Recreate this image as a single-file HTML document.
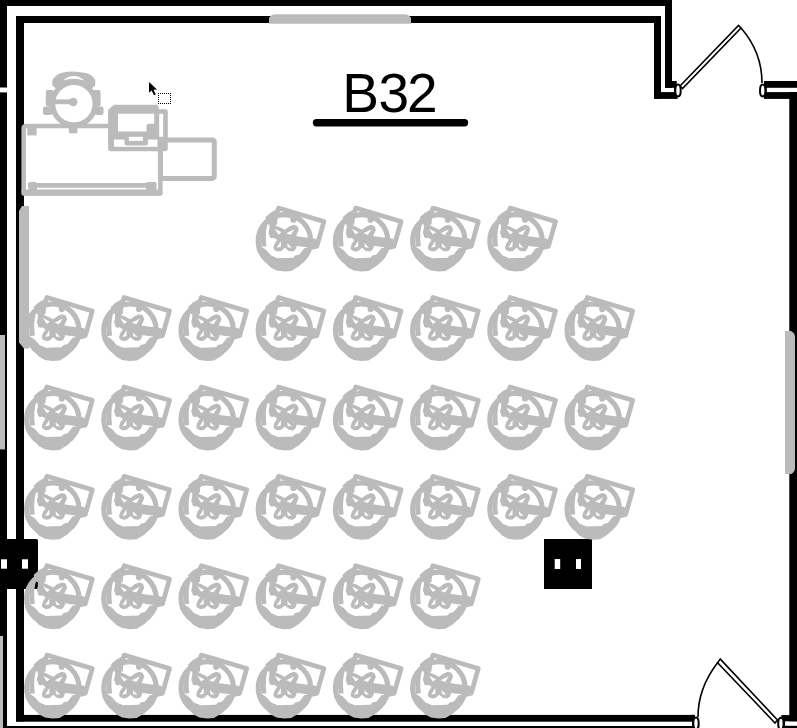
<!DOCTYPE html>
<html><head><meta charset="utf-8">
<style>
html,body{margin:0;padding:0;background:#fff;width:797px;height:728px;overflow:hidden}
svg{display:block}
</style></head>
<body>
<svg width="797" height="728" viewBox="0 0 797 728">
<defs>
<symbol id="chair" overflow="visible">
<g fill="none" stroke="#bbbbbb" stroke-linejoin="round">
<circle cx="33.2" cy="38.3" r="26.2" stroke-width="5.2"/>
<path d="M27.3,5.6 L72.7,19 L65.7,43.7 L19.7,30.2 Z" stroke-width="4.7"/>
<path d="M14,20.5 Q10.9,31 12.8,44" stroke-width="5"/>
<path d="M21,17.5 L21,33" stroke-width="5.5" stroke-linecap="round"/>
</g>
<path d="M5.5,47 L9.9,53.7 L14.3,58.7 L19.2,64.7 L25.3,68 L33,69.1 L40,68.6 L48.2,63.6 L52,58 L59.2,49.3 L61,46 L53.2,45.5 L48.2,52 L44,53 L41.9,55.3 L26.5,55.8 L19.9,53 L15.5,48 L13.7,46.6 L10.2,44.5 Z" fill="#bbbbbb"/>
<path d="M61,36 L68,38 L66,46 L58,48 Z" fill="#bbbbbb"/>
<circle cx="42.2" cy="17.2" r="3.1" fill="#bbbbbb"/>
<path d="M14,15 L19,10.5 L26,6.5 L26,22 L17,22 Z" fill="#bbbbbb"/>
<g fill="#fff" stroke="#bbbbbb">
<path d="M30,36.5 L64,41" stroke-width="9.5" fill="none"/>
</g>
<path d="M17.8,28.3 L19.5,24.5 L23.7,22.8 L28,24.5 L33.6,27.3 L38,24 L42.5,22.3 L46,23.5 L47.5,27.3 L45,33 L44.5,42 L45.5,44.1 L44,47.5 L41.5,49.1 L37.5,48.5 L33.6,45.3 L30,48.5 L26.7,49.1 L23,47.5 L22.2,45.1 L23.5,41 L26,37.5 L20.5,33.5 L17.8,31.5 Z" fill="#bbbbbb"/>
<g fill="#fff">
<path d="M23.5,26.2 L30.3,29.8 L27.2,32 Z"/><path d="M43.2,26.7 L35,30.8 L39.5,32.4 Z"/><path d="M25.5,45.2 L29.7,38.6 L29.7,44.2 Z"/><path d="M40.7,45.2 L36,40.6 L36.5,44.7 Z"/>
</g>
</symbol>
</defs>
<rect width="797" height="728" fill="#fff"/>

<!-- walls -->
<g fill="#000">
  <rect x="0" y="0" width="672" height="6"/>
  <rect x="0" y="0" width="7" height="87.5"/>
  <rect x="0" y="92.4" width="7" height="635.6"/>
  <rect x="665" y="0" width="7" height="87.8"/>
  <rect x="665" y="81" width="11.6" height="6.8"/>
  <rect x="16" y="16" width="645" height="7"/>
  <rect x="16" y="16" width="8" height="705.5"/>
  <rect x="654" y="16" width="7" height="82.9"/>
  <rect x="654" y="92.1" width="23.6" height="6.8"/>
  <rect x="674" y="81" width="2.4" height="17.9"/>
  <rect x="764.1" y="81" width="32.9" height="6.8"/>
  <rect x="764.1" y="92.1" width="32.9" height="6.8"/>
  <rect x="764.1" y="81" width="2.7" height="17.9"/>
  <rect x="789.3" y="92.1" width="7.7" height="629.2"/>
  <rect x="16" y="714.9" width="678.8" height="6.8"/>
  <rect x="3" y="726" width="691.8" height="2"/>
  <rect x="692" y="714.9" width="2.8" height="13.1"/>
  <rect x="781.3" y="715.1" width="15.7" height="6.2"/>
  <rect x="781.3" y="725.8" width="15.7" height="2.2"/>
  <rect x="783" y="715.1" width="2.1" height="12.9"/>
</g>

<!-- windows -->
<g fill="#bbbbbb">
  <path d="M269,23.7 V18 Q271,14.2 275,14.2 H405 Q409,14.2 411,18 V23.7 Z"/>
  <path d="M22,206 H29 V348.6 H24 L19,342.5 V211 Z"/>
  <rect x="0" y="335" width="5" height="114.4"/>
  <rect x="0" y="636" width="3" height="92"/>
  <path d="M785,331 H791 Q795,333 795,337 V468 Q795,472 791,474 H785 Z"/>
</g>

<!-- black boxes -->
<g fill="#000">
  <rect x="-10" y="539" width="48" height="50" rx="1.5"/>
  <rect x="1" y="559.3" width="6" height="9.4" fill="#fff"/>
  <rect x="22" y="559.3" width="6" height="9.4" fill="#fff"/>
  <path d="M544,539 H592 V589 H544 Z M554.7,559 V569 H560.2 V559 Z M576,559 V569 H581 V559 Z" fill-rule="evenodd"/>
</g>

<!-- doors -->
<g fill="none" stroke="#000" stroke-width="1.6">
  <path d="M680,86 L738.5,25.4 L741,28 L682.5,88.6 Z" fill="#fff"/>
  <path d="M741,28 Q762,52 762,83"/>
  <ellipse cx="678" cy="90.5" rx="2.7" ry="5.9" fill="#fff" stroke-width="2"/>
  <ellipse cx="762.7" cy="90.5" rx="2.7" ry="5.9" fill="#fff" stroke-width="2"/>
  <path d="M777.5,720 L720.3,659.1 L717.6,662.7 L775,723 Z" fill="#fff"/>
  <path d="M717.6,662.7 Q698,688 698,717"/>
  <ellipse cx="696" cy="723.5" rx="2.7" ry="5.9" fill="#fff" stroke-width="2"/>
  <ellipse cx="780.9" cy="723.7" rx="2.7" ry="5.9" fill="#fff" stroke-width="2"/>
</g>

<!-- desk group -->
<g fill="#bbbbbb">
  <path d="M52.3,85.5 L52.3,80 Q56.5,73.5 64,72.2 Q74,70.3 86.5,73.2 Q92.5,75 95.3,80 L95.3,85.5 L90,90 L58,90 Z"/>
  <path d="M63,80.4 Q73.6,71.8 84.4,80.4 Q73.6,77.2 63,80.4 Z" fill="#fff"/>
  <circle cx="73.9" cy="103.7" r="18.9" fill="#fff"/>
  <circle cx="73.9" cy="103.7" r="21.3" fill="none" stroke="#bbbbbb" stroke-width="5.3"/>
  <rect x="45.8" y="90" width="8" height="16.4" rx="2"/>
  <rect x="93" y="90" width="7.6" height="16.4" rx="2"/>
  <rect x="42.9" y="106.4" width="9.5" height="8.6" rx="2.5"/>
  <rect x="94.5" y="106.4" width="9" height="8.6" rx="2.5"/>
  <line x1="54.4" y1="101.8" x2="73.2" y2="101.8" stroke="#bbbbbb" stroke-width="4.8"/>
  <circle cx="73.2" cy="102" r="4.3"/>
  <rect x="68.8" y="126" width="8.7" height="7.3" rx="1"/>
  <rect x="23.65" y="126.05" width="136.7" height="67.3" rx="2" fill="none" stroke="#bbbbbb" stroke-width="4.5"/>
  <rect x="21.4" y="189.5" width="141.2" height="6.3" rx="2"/>
  <rect x="28" y="183" width="128" height="4.7"/>
  <rect x="27.3" y="127.9" width="9.3" height="7.5"/>
  <rect x="28.5" y="182" width="8.5" height="8.5" rx="1.5"/>
  <rect x="146" y="182" width="10.5" height="8.5" rx="1.5"/>
  <path d="M108.1,109.7 L114,104.8 H157.8 L159,109.3 H165 Q167.8,109.3 167.8,112 V148.5 Q167.8,151.3 165,151.3 H111 Q108.1,151.3 108.1,148.5 Z"/>
  <rect x="160.4" y="139.9" width="53.9" height="38.5" rx="2" fill="none" stroke="#bbbbbb" stroke-width="5"/>
</g>
<g fill="#fff">
  <path d="M118,113.8 H154.2 V123.7 H149 Q146.5,123.7 146.5,126 V131.4 H118 Z"/>
  <rect x="159.2" y="113.8" width="4" height="23"/>
  <rect x="114" y="139.6" width="43.4" height="7.2"/>
</g>
<rect x="124.4" y="136.4" width="23.5" height="9" rx="2" fill="#bbbbbb"/>
<rect x="128.9" y="136.8" width="14" height="4.1" fill="#fff"/>
<!-- cursor -->
<path d="M149,82 L149,92.7 L151.6,90.4 L154,95.3 L155.8,94.5 L153.5,89.8 L157,89.6 Z" fill="#000"/>
<path d="M158,93h1v1h-1zM158,103h1v1h-1zM160,93h1v1h-1zM160,103h1v1h-1zM162,93h1v1h-1zM162,103h1v1h-1zM164,93h1v1h-1zM164,103h1v1h-1zM166,93h1v1h-1zM166,103h1v1h-1zM168,93h1v1h-1zM168,103h1v1h-1zM170,93h1v1h-1zM170,103h1v1h-1zM158,95h1v1h-1zM170,95h1v1h-1zM158,97h1v1h-1zM170,97h1v1h-1zM158,99h1v1h-1zM170,99h1v1h-1zM158,101h1v1h-1zM170,101h1v1h-1z" fill="#000"/>

<!-- title -->
<text y="112" font-family="Liberation Sans, sans-serif" font-size="55" fill="#000"><tspan x="342.2">B</tspan><tspan x="378.6">3</tspan><tspan x="407.1">2</tspan></text>
<line x1="316.5" y1="122.7" x2="464.5" y2="122.7" stroke="#000" stroke-width="7.4" stroke-linecap="round"/>

<!-- chairs -->
<g id="chairs">
<use href="#chair" x="251.2" y="202.5"/>
<use href="#chair" x="328.4" y="202.5"/>
<use href="#chair" x="405.6" y="202.5"/>
<use href="#chair" x="482.8" y="202.5"/>
<use href="#chair" x="19.6" y="291.9"/>
<use href="#chair" x="96.8" y="291.9"/>
<use href="#chair" x="174.0" y="291.9"/>
<use href="#chair" x="251.2" y="291.9"/>
<use href="#chair" x="328.4" y="291.9"/>
<use href="#chair" x="405.6" y="291.9"/>
<use href="#chair" x="482.8" y="291.9"/>
<use href="#chair" x="560.0" y="291.9"/>
<use href="#chair" x="19.6" y="381.3"/>
<use href="#chair" x="96.8" y="381.3"/>
<use href="#chair" x="174.0" y="381.3"/>
<use href="#chair" x="251.2" y="381.3"/>
<use href="#chair" x="328.4" y="381.3"/>
<use href="#chair" x="405.6" y="381.3"/>
<use href="#chair" x="482.8" y="381.3"/>
<use href="#chair" x="560.0" y="381.3"/>
<use href="#chair" x="19.6" y="470.7"/>
<use href="#chair" x="96.8" y="470.7"/>
<use href="#chair" x="174.0" y="470.7"/>
<use href="#chair" x="251.2" y="470.7"/>
<use href="#chair" x="328.4" y="470.7"/>
<use href="#chair" x="405.6" y="470.7"/>
<use href="#chair" x="482.8" y="470.7"/>
<use href="#chair" x="560.0" y="470.7"/>
<use href="#chair" x="19.6" y="560.1"/>
<use href="#chair" x="96.8" y="560.1"/>
<use href="#chair" x="174.0" y="560.1"/>
<use href="#chair" x="251.2" y="560.1"/>
<use href="#chair" x="328.4" y="560.1"/>
<use href="#chair" x="405.6" y="560.1"/>
<use href="#chair" x="19.6" y="649.5"/>
<use href="#chair" x="96.8" y="649.5"/>
<use href="#chair" x="174.0" y="649.5"/>
<use href="#chair" x="251.2" y="649.5"/>
<use href="#chair" x="328.4" y="649.5"/>
<use href="#chair" x="405.6" y="649.5"/>
</g>
</svg>
</body></html>
